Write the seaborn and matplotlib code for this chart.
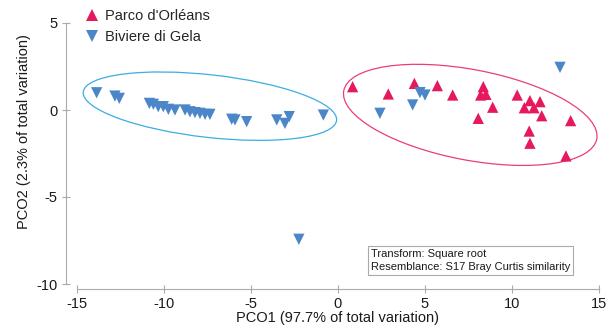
import pandas as pd
import matplotlib
matplotlib.use('Agg')
import matplotlib.pyplot as plt
from matplotlib.patches import Ellipse
import seaborn as sns

# PCO scores
parco_x = [0.84, 2.89, 4.39, 5.71, 6.59, 8.35, 8.2, 8.5, 8.89, 8.06,
           10.30, 11.03, 11.61, 10.71, 11.26, 11.71, 13.37, 10.99, 11.03, 13.10]
parco_y = [1.34, 0.92, 1.53, 1.40, 0.86, 1.34, 0.86, 0.90, 0.16, -0.48,
           0.86, 0.54, 0.48, 0.13, 0.13, -0.33, -0.61, -1.21, -1.91, -2.64]

biviere_x = [-13.87, -12.82, -12.57, -10.84, -10.61, -10.33, -10.04, -9.75, -9.37,
             -8.79, -8.51, -8.22, -7.93, -7.64, -7.36, -6.11, -5.92, -5.25, -3.52,
             -3.05, -2.80, -0.84, -2.25, 2.41, 4.29, 4.71, 5.00, 12.76]
biviere_y = [0.99, 0.80, 0.67, 0.38, 0.33, 0.19, 0.19, 0.04, 0.0,
             0.0, -0.10, -0.15, -0.19, -0.25, -0.25, -0.53, -0.57, -0.67, -0.57,
             -0.77, -0.38, -0.29, -7.43, -0.19, 0.29, 1.00, 0.86, 2.45]

groups = ["Parco d'Orléans", "Biviere di Gela"]
x_ticks = [-15, -10, -5, 0, 5, 10, 15]
y_ticks = [-10, -5, 0, 5]

df = pd.DataFrame({
    'PCO1': parco_x + biviere_x,
    'PCO2': parco_y + biviere_y,
    'site': [groups[0]] * len(parco_x) + [groups[1]] * len(biviere_x),
})

pink = '#e5195b'
blue = '#4a86c8'

sns.set_theme(style='white')
plt.rcParams['font.family'] = ['Liberation Sans', 'DejaVu Sans']
plt.rcParams['axes.unicode_minus'] = False

fig = plt.figure(figsize=(6.08, 3.32), dpi=100)
ax = fig.add_axes([77 / 608, 1 - 284 / 332, 522 / 608, 261 / 332])

sns.scatterplot(data=df, x='PCO1', y='PCO2', hue='site', style='site',
                hue_order=groups, style_order=groups,
                palette=[pink, blue], markers=['^', 'v'],
                s=66, linewidth=0, ax=ax, zorder=3)

# group ellipses
ax.add_patch(Ellipse((-7.36, 0.22), 14.65, 3.6, angle=-6.4,
                     fill=False, edgecolor='#3aaee2', linewidth=0.9))
ax.add_patch(Ellipse((7.6, -0.28), 14.8, 5.2, angle=-10.8,
                     fill=False, edgecolor='#ea3f72', linewidth=0.9))

ax.set_xlim(-15, 15)
ax.set_ylim(-10, 5)
ax.set_xticks(x_ticks)
ax.set_yticks(y_ticks)

for side in ['top', 'right']:
    ax.spines[side].set_visible(False)
ax.spines['left'].set_position(('outward', 8))
ax.spines['bottom'].set_position(('outward', 3.6))
for side in ['left', 'bottom']:
    ax.spines[side].set_color('#aaaaaa')
    ax.spines[side].set_linewidth(0.8)
ax.tick_params(bottom=True, left=True, direction='inout', length=6, width=0.8,
               color='#aaaaaa', labelsize=10.5, labelcolor='#1a1a1a', pad=3)

ax.set_xlabel('PCO1 (97.7% of total variation)', fontsize=10.5, color='#1a1a1a')
ax.set_ylabel('PCO2 (2.3% of total variation)', fontsize=10.5, color='#1a1a1a')
ax.xaxis.set_label_coords(0.5, -0.105)
ax.yaxis.set_label_coords(-0.088, 0.585)

ax.text(0.563, 0.045, 'Transform: Square root\nResemblance: S17 Bray Curtis similarity',
        transform=ax.transAxes, fontsize=8, color='#1a1a1a', linespacing=1.4,
        ha='left', va='bottom',
        bbox=dict(boxstyle='square,pad=0.25', facecolor='white',
                  edgecolor='#aaaaaa', linewidth=0.8))

sns.move_legend(ax, 'upper left', bbox_to_anchor=(0.13, 0.99),
                bbox_transform=fig.transFigure, frameon=False, title=None,
                fontsize=10.5, handlelength=1.0, handletextpad=0.4,
                labelspacing=0.45, borderaxespad=0, markerscale=1.1)

fig.savefig('out.png', dpi=100)
